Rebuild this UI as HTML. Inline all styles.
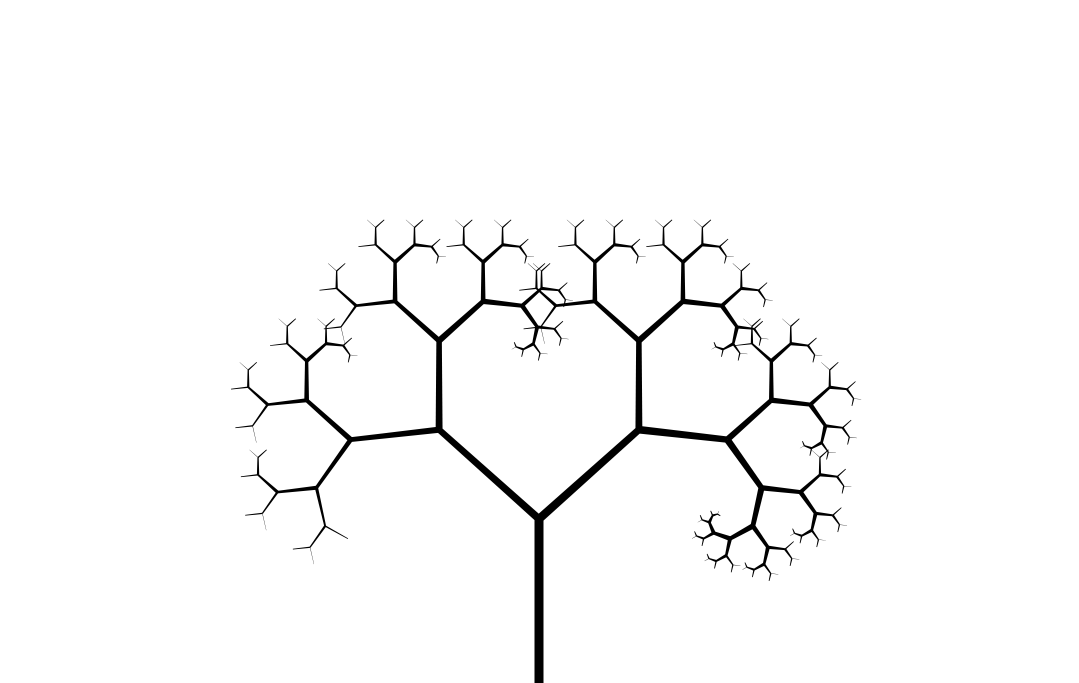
<!DOCTYPE html>
<html lang="en">
<head>
<meta charset="utf-8">
<title>Fractal tree</title>
<style>
html,body{margin:0;padding:0;background:#fff;width:1079px;height:683px;overflow:hidden}
svg{display:block}
</style>
</head>
<body>
<svg id="tree" width="1079" height="683" viewBox="0 0 1079 683" xmlns="http://www.w3.org/2000/svg"></svg>
<script>
var forkPoint = [539, 519];
var frameBottom = [683];
var trunkDrawWidth = [9];
var firstBranchLength = [134];
var trunkWidth = [8];
var turnDegrees = [48.2];
var lengthRatio = [0.664];
var leftWidthLoss = [1.4];
var rightWidthLoss = [0.7];
var minWidthToBranch = [1.05];
var maxTaper = [0.7];
var taperShare = [0.3];
var widthBoost = [0.05];

var svg = document.getElementById('tree');
var NS = 'http://www.w3.org/2000/svg';

function addQuad(name, x, y, x2, y2, hs, he) {
  var len = Math.hypot(x2 - x, y2 - y);
  var nx = -(y2 - y) / len;
  var ny = (x2 - x) / len;
  var pts = [
    (x + nx * hs).toFixed(2) + ',' + (y + ny * hs).toFixed(2),
    (x2 + nx * he).toFixed(2) + ',' + (y2 + ny * he).toFixed(2),
    (x2 - nx * he).toFixed(2) + ',' + (y2 - ny * he).toFixed(2),
    (x - nx * hs).toFixed(2) + ',' + (y - ny * hs).toFixed(2)
  ].join(' ');
  var el = document.createElementNS(NS, 'polygon');
  
  
  el.setAttribute('points', pts);
  el.setAttribute('fill', '#000');
  svg.appendChild(el);
}

function drawBranch(x, y, theta, len, width) {
  var rad = theta * Math.PI / 180;
  var x2 = x + len * Math.sin(rad);
  var y2 = y - len * Math.cos(rad);
  var taper = Math.min(maxTaper[0], taperShare[0] * width);
  var drawn = width * (1 + widthBoost[0]);
  addQuad('tree-branch', x, y, x2, y2, (drawn + taper) / 2, (drawn - taper) / 2);
  if (width > minWidthToBranch[0]) {
    growChildren(x2, y2, theta, len * lengthRatio[0], width);
  }
}

function growChildren(x, y, theta, next, width) {
  var wl = width - leftWidthLoss[0];
  var wr = width - rightWidthLoss[0];
  if (wl > 0) drawBranch(x, y, theta - turnDegrees[0], next, wl);
  if (wr > 0) drawBranch(x, y, theta + turnDegrees[0], next, wr);
}

addQuad('tree-trunk', forkPoint[0], frameBottom[0], forkPoint[0], forkPoint[1], trunkDrawWidth[0] / 2, trunkDrawWidth[0] / 2);
growChildren(forkPoint[0], forkPoint[1], 0, firstBranchLength[0], trunkWidth[0]);
</script>
</body>
</html>
